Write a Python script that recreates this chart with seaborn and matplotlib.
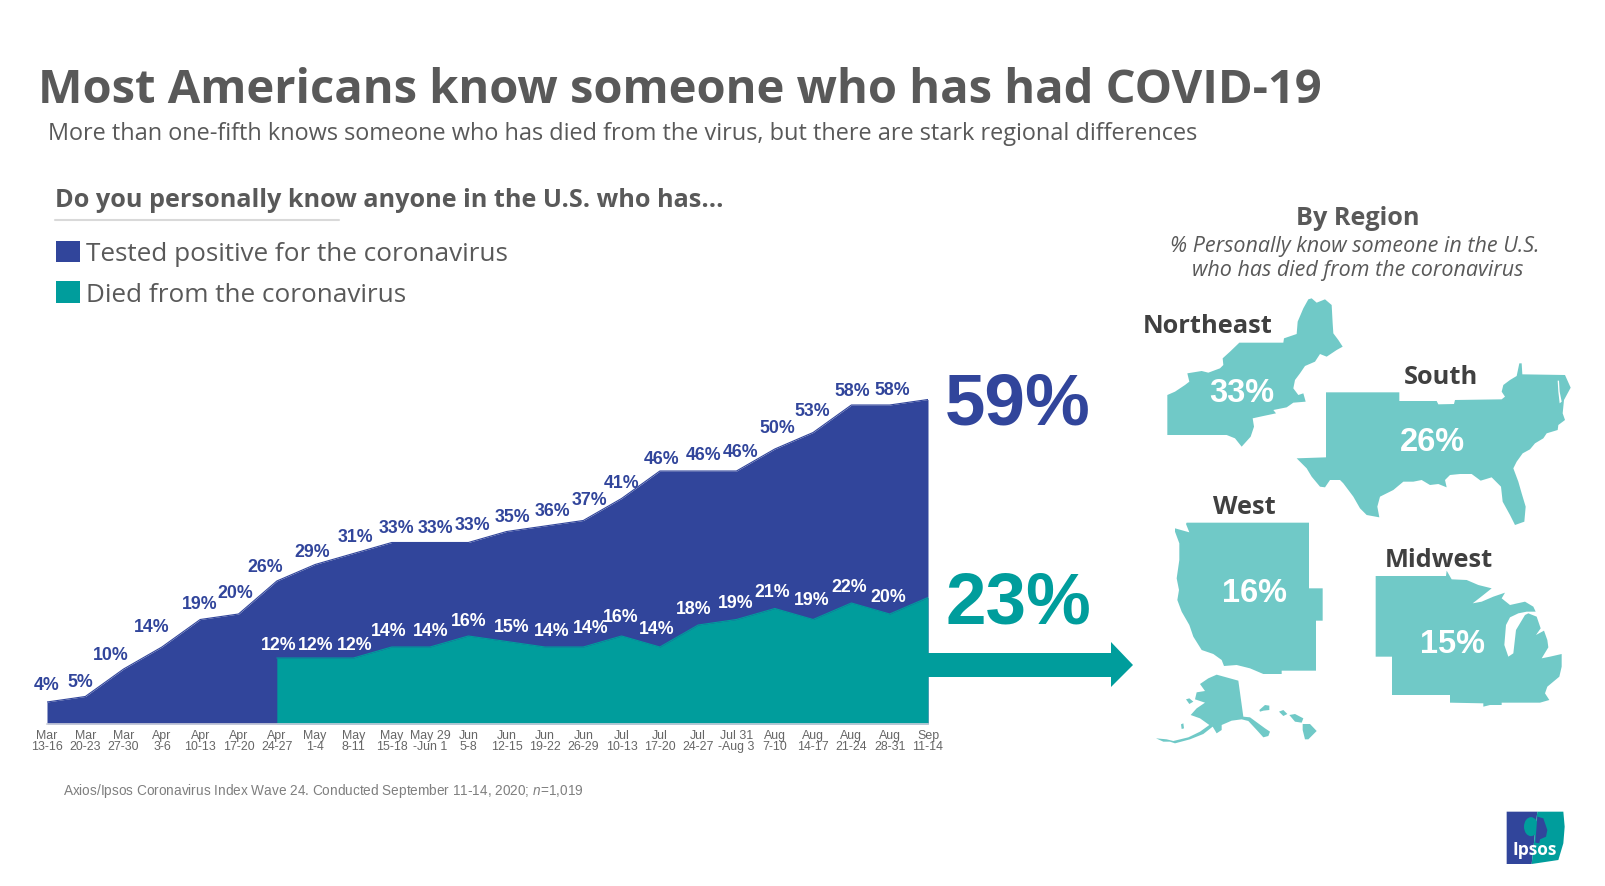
import matplotlib
matplotlib.use('Agg')
import matplotlib.pyplot as plt
import pandas as pd
import seaborn as sns
from matplotlib.patches import Polygon, Rectangle, Ellipse

# survey waves
wave_labels = ['Mar\n13-16', 'Mar\n20-23', 'Mar\n27-30', 'Apr\n3-6', 'Apr\n10-13', 'Apr\n17-20', 'Apr\n24-27',
               'May\n1-4', 'May\n8-11', 'May\n15-18', 'May 29\n-Jun 1', 'Jun\n5-8', 'Jun\n12-15', 'Jun\n19-22',
               'Jun\n26-29', 'Jul\n10-13', 'Jul\n17-20', 'Jul\n24-27', 'Jul 31\n-Aug 3', 'Aug\n7-10', 'Aug\n14-17',
               'Aug\n21-24', 'Aug\n28-31', 'Sep\n11-14']
tested_positive = [4, 5, 10, 14, 19, 20, 26, 29, 31, 33, 33, 33, 35, 36, 37, 41, 46, 46, 46, 50, 53, 58, 58, 59]
died = [12, 12, 12, 14, 14, 16, 15, 14, 14, 16, 14, 18, 19, 21, 19, 22, 20, 23]
died_start = len(tested_positive) - len(died)

region_names = ['Northeast', 'South', 'West', 'Midwest']
region_values = [33, 26, 16, 15]

BLUE = '#31459b'
TEAL = '#009d9c'
MAP_TEAL = '#70c9c7'
GREY = '#595959'
DARK = '#404040'
HEAD_FONT = 'Open Sans'
NUM_FONT = 'Liberation Sans'

# label nudges in pixels from the data point (one pair per label)
positive_nudge = [(0, -16), (-5, -14), (-13, -14), (-10, -19), (-1, -15), (-3, -20), (-12, -13), (-3, -12),
                  (2, -16), (5, -14), (5, -14), (4, -17), (6, -14), (7, -14), (6, -20), (0, -15), (2, -11),
                  (5, -15), (4, -18), (3, -20), (-1, -21), (1, -13.5), (3, -14.5)]
died_nudge = [(2, -12), (1, -12), (1, -12), (-3, -16), (1, -16), (0, -14), (5, -14), (7, -16), (7, -18.5),
              (-1, -19), (-3, -17.5), (-4, -15), (-1, -16), (-3, -16), (-1, -18.6), (-2, -15), (-1, -16)]


def crop_pts(pts, x0, y0):
    # outlines were traced on 3x crops of the slide
    return [(x0 + x / 3, y0 + y / 3) for x, y in pts]


northeast = crop_pts([(112, 345), (135, 335), (165, 315), (178, 305), (172, 280), (215, 273), (235, 278), (270, 265),
                      (280, 255), (278, 235), (300, 215), (328, 188), (460, 188), (462, 175), (500, 162), (503, 125),
                      (520, 85), (535, 58), (545, 55), (560, 68), (585, 58), (605, 75), (608, 130), (610, 160),
                      (625, 180), (638, 200), (620, 210), (590, 230), (570, 222), (555, 245), (525, 258), (510, 280),
                      (495, 300), (490, 325), (505, 345), (520, 340), (527, 365), (490, 368), (470, 382), (430, 390),
                      (438, 400), (400, 408), (368, 415), (372, 440), (362, 470), (335, 500), (315, 475), (290, 465),
                      (112, 465)], 1130, 280)
south = (crop_pts([(588, 337), (808, 337), (808, 363), (920, 363), (925, 373), (972, 372), (975, 360), (1115, 358)], 1130, 280)
         + crop_pts([(135, 140), (125, 125), (130, 105), (150, 90), (170, 78), (178, 40), (185, 40), (187, 73), (315, 75),
                     (332, 113), (312, 150), (308, 190), (315, 210), (295, 225), (293, 240), (260, 250), (250, 265),
                     (225, 280), (210, 298), (188, 310), (170, 335), (160, 355), (175, 395), (185, 430), (197, 470),
                     (193, 515), (165, 525), (150, 495), (128, 455), (123, 410), (95, 382), (62, 392), (35, 372),
                     (0, 372)], 1460, 350)
         + crop_pts([(960, 585), (945, 600), (950, 622), (925, 612), (900, 615), (875, 600), (850, 605), (820, 605),
                     (790, 630), (750, 650), (742, 680), (748, 712), (710, 705), (690, 685), (670, 650), (640, 610),
                     (630, 600), (600, 600), (585, 622), (570, 620), (545, 590), (530, 565), (500, 535), (588, 532)],
                    1130, 280))
chesapeake = crop_pts([(293, 92), (297, 92), (299, 125), (305, 155), (299, 160), (295, 125)], 1460, 350)
west = crop_pts([(170, 68), (537, 68), (537, 265), (578, 265), (578, 362), (558, 362), (558, 512), (455, 512), (455, 522),
                 (400, 522), (360, 505), (320, 495), (282, 498), (275, 480), (250, 462), (215, 450), (190, 410),
                 (178, 375), (155, 335), (142, 300), (147, 270), (140, 235), (148, 180), (148, 130), (135, 95),
                 (135, 85), (178, 97), (168, 72)], 1130, 500)
midwest = (crop_pts([(737, 228), (948, 228), (950, 212), (965, 238)], 1130, 500)
           + crop_pts([(20, 60), (55, 75), (95, 85), (70, 105), (38, 130), (65, 125), (100, 110), (135, 98), (125, 115),
                       (150, 135), (195, 125), (220, 140), (227, 155), (200, 155), (175, 160), (150, 172), (138, 195),
                       (133, 255), (145, 290), (160, 280), (168, 210), (195, 165), (205, 160), (230, 170), (242, 205),
                       (228, 225), (252, 212), (262, 240), (265, 262), (245, 295), (270, 290), (305, 282), (305, 320),
                       (298, 350), (262, 380), (255, 400), (268, 420), (240, 428), (125, 428), (125, 435), (90, 435),
                       (70, 440), (70, 430)], 1460, 560)
           + crop_pts([(960, 608), (960, 585), (786, 585), (786, 470), (737, 470)], 1130, 500))
alaska = crop_pts([(200, 44), (265, 62), (280, 170), (300, 172), (345, 205), (360, 215), (355, 228), (340, 232), (322, 212),
                   (295, 183), (275, 178), (245, 182), (215, 195), (215, 210), (200, 220), (188, 200), (160, 222),
                   (120, 238), (75, 250), (60, 245), (40, 245), (18, 235), (50, 238), (70, 243), (115, 232), (150, 215),
                   (178, 195), (150, 175), (122, 165), (140, 145), (165, 128), (135, 118), (140, 97), (165, 93),
                   (150, 72), (175, 55)], 1150, 660)
islands = [crop_pts(p, 1150, 660) for p in [
    [(108, 118), (118, 115), (130, 125), (118, 132)],
    [(93, 193), (100, 190), (102, 205), (95, 207)],
    [(328, 150), (345, 135), (358, 137), (358, 150), (340, 152), (330, 155)],
    [(387, 155), (400, 150), (412, 162), (400, 168)],
    [(418, 165), (435, 162), (460, 175), (455, 188), (435, 185)],
    [(458, 192), (480, 192), (500, 213), (475, 238), (465, 238), (458, 210)],
]]

sns.set_theme(style='white')
plt.rcParams['mathtext.fontset'] = 'custom'
plt.rcParams['mathtext.it'] = 'Liberation Sans:italic'
plt.rcParams['mathtext.rm'] = 'Liberation Sans'

W, H = 1605, 886
fig = plt.figure(figsize=(W / 100, H / 100), dpi=100, facecolor='white')

# chart area: first wave at x=47, last at x=928, zero at y=724, 5.5 px per point
PX_PER_POINT = 5.5
YTOP = 62
ax = fig.add_axes([47 / W, 1 - 724 / H, (928 - 47) / W, YTOP * PX_PER_POINT / H])

df = pd.DataFrame({'wave': range(len(wave_labels)), 'label': wave_labels, 'positive': tested_positive})
df_died = pd.DataFrame({'wave': df['wave'][died_start:].values, 'died': died})

ax.fill_between(df['wave'], 0, df['positive'], color=BLUE, lw=0)
sns.lineplot(data=df, x='wave', y='positive', ax=ax, color=BLUE, lw=0.8)
ax.fill_between(df_died['wave'], 0, df_died['died'], color=TEAL, lw=0)
sns.lineplot(data=df_died, x='wave', y='died', ax=ax, color=TEAL, lw=0.8)

ax.set_xlim(0, len(wave_labels) - 1)
ax.set_ylim(0, YTOP)
ax.set_xlabel('')
ax.set_ylabel('')
ax.set_yticks([])
ax.set_xticks(df['wave'], wave_labels, fontfamily=NUM_FONT, fontsize=8.9, color='#666666', linespacing=0.95)
ax.tick_params(axis='x', length=0, pad=4)
ax.patch.set_alpha(0)
for side in ['top', 'left', 'right']:
    ax.spines[side].set_visible(False)
ax.spines['bottom'].set_color('#ccd0dc')
ax.spines['bottom'].set_linewidth(1.2)

# value labels, the last wave is called out large instead
for i, (v, nudge) in enumerate(zip(tested_positive[:-1], positive_nudge)):
    ax.annotate(f'{v}%', (i, v), xytext=(nudge[0] * 0.72, -nudge[1] * 0.72), textcoords='offset points', ha='center',
                va='center', fontfamily=NUM_FONT, fontweight='bold', fontsize=12.8, color=BLUE, annotation_clip=False)
for i, (v, nudge) in enumerate(zip(died[:-1], died_nudge)):
    ax.annotate(f'{v}%', (i + died_start, v), xytext=(nudge[0] * 0.72, -nudge[1] * 0.72), textcoords='offset points',
                ha='center', va='center', fontfamily=NUM_FONT, fontweight='bold', fontsize=12.8, color='white')

# everything else sits on a full-slide layer in pixel coordinates
ov = fig.add_axes([0, 0, 1, 1])
ov.set_xlim(0, W)
ov.set_ylim(H, 0)
ov.axis('off')
ov.patch.set_alpha(0)

ov.text(38, 103, 'Most Americans know someone who has had COVID-19', fontfamily=HEAD_FONT, fontweight='bold',
        fontsize=33.9, color=GREY, va='baseline')
ov.text(48, 140, 'More than one-fifth knows someone who has died from the virus, but there are stark regional differences',
        fontfamily=HEAD_FONT, fontsize=16.95, color=GREY, va='baseline')
ov.text(55, 207, 'Do you personally know anyone in the U.S. who has...', fontfamily=HEAD_FONT, fontweight='bold',
        fontsize=18.2, color=GREY, va='baseline')
ov.plot([55, 339], [220, 220], color='#d9d9d9', lw=1.5)

ov.add_patch(Rectangle((56, 241), 24, 21, color=BLUE, lw=0))
ov.add_patch(Rectangle((56, 281), 24, 22, color=TEAL, lw=0))
ov.text(86, 261, 'Tested positive for the coronavirus', fontfamily=HEAD_FONT, fontsize=18.85, color=GREY, va='baseline')
ov.text(86, 302, 'Died from the coronavirus', fontfamily=HEAD_FONT, fontsize=18.85, color=GREY, va='baseline')

ov.text(945, 424, f'{tested_positive[-1]}%', fontfamily=NUM_FONT, fontweight='bold', fontsize=52.5, color=BLUE, va='baseline')
ov.text(945, 624, f'{died[-1]}%', fontfamily=NUM_FONT, fontweight='bold', fontsize=52.5, color=TEAL, va='baseline')
ov.add_patch(Polygon([(928, 653), (1111, 653), (1111, 642), (1133, 665), (1111, 687), (1111, 677), (928, 677)],
                     closed=True, color=TEAL, lw=0))

ov.text(1358, 225, 'By Region', fontfamily=HEAD_FONT, fontweight='bold', fontsize=18.2, color=GREY, ha='center', va='baseline')
ov.text(1355, 252, '% Personally know someone in the U.S.', fontfamily=HEAD_FONT, fontstyle='italic', fontsize=15.5,
        color=GREY, ha='center', va='baseline')
ov.text(1358, 276, 'who has died from the coronavirus', fontfamily=HEAD_FONT, fontstyle='italic', fontsize=15.5,
        color=GREY, ha='center', va='baseline')

for shape in [northeast, south, west, midwest, alaska] + islands:
    ov.add_patch(Polygon(shape, closed=True, color=MAP_TEAL, lw=0))
ov.add_patch(Polygon(chesapeake, closed=True, color='white', lw=0))

name_spots = [(1143, 333), (1404, 384), (1213, 514), (1385, 567)]
value_spots = [(1242, 402), (1432, 451), (1254, 602), (1453, 653)]
for name, value, ns, vs in zip(region_names, region_values, name_spots, value_spots):
    ov.text(ns[0], ns[1], name, fontfamily=HEAD_FONT, fontweight='bold', fontsize=18.3, color=DARK, va='baseline')
    ov.text(vs[0], vs[1], f'{value}%', fontfamily=NUM_FONT, fontweight='bold', fontsize=23.5, color='white',
            ha='center', va='baseline')

ov.text(63, 795, 'Axios/Ipsos Coronavirus Index Wave 24. Conducted September 11-14, 2020; $n$=1,019',
        fontfamily=NUM_FONT, fontsize=9.8, color='#7f7f7f', va='baseline')

# Ipsos logo
logo_blue = Polygon(crop_pts([(140, 95), (232, 95), (215, 252), (140, 252)], 1460, 780), closed=True, color=BLUE, lw=0)
logo_teal = Polygon(crop_pts([(232, 95), (310, 95), (314, 140), (310, 190), (295, 240), (215, 252)], 1460, 780),
                    closed=True, color=TEAL, lw=0)
ov.add_patch(logo_blue)
ov.add_patch(logo_teal)
ov.add_patch(Ellipse((1460 + 213 / 3, 780 + 140 / 3), 14, 19, color=TEAL, lw=0))
ov.add_patch(Polygon(crop_pts([(232, 110), (250, 115), (262, 150), (258, 170), (240, 178), (238, 190), (226, 188)], 1460, 780),
                     closed=True, color=BLUE, lw=0))
ov.text(1460 + 225 / 3, 780 + 225 / 3, 'Ipsos', fontfamily=HEAD_FONT, fontweight='bold', fontsize=12.5, color='white',
        ha='center', va='baseline')

fig.savefig('out.png', dpi=100)
